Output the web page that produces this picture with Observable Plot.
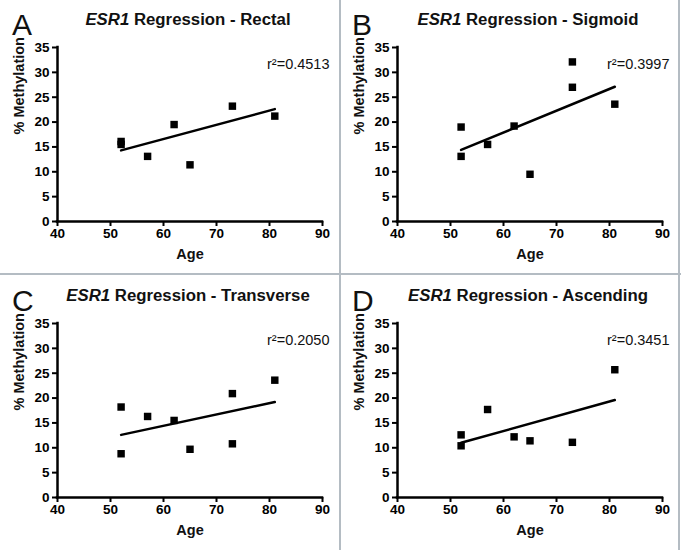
<!DOCTYPE html>
<html>
<head>
<meta charset="utf-8">
<script src="https://cdn.jsdelivr.net/npm/d3@7"></script>
<script src="https://cdn.jsdelivr.net/npm/@observablehq/plot@0.6"></script>
<style>
  html, body { margin: 0; padding: 0; background: #fff; }
  #fig { position: relative; width: 681px; height: 550px; overflow: hidden; background: #fff; }
  .panel { position: absolute; width: 340px; height: 273px; }
  .vline { position: absolute; background: #b4bcc3; }
</style>
</head>
<body>
<div id="fig"></div>
<script>
const FONT = '"Liberation Sans", Arial, Helvetica, sans-serif';

// ---- data ----
const panelLetters = ["A", "B", "C", "D"];
const sites = ["Rectal", "Sigmoid", "Transverse", "Ascending"];
const rSquared = ["0.4513", "0.3997", "0.2050", "0.3451"];

const rectalAge = [52, 52, 57, 62, 65, 73, 81];
const rectalMeth = [16.1, 15.5, 13.1, 19.5, 11.4, 23.2, 21.2];
const sigmoidAge = [52, 52, 57, 62, 65, 73, 73, 81];
const sigmoidMeth = [19.0, 13.1, 15.5, 19.2, 9.5, 32.1, 27.0, 23.6];
const transverseAge = [52, 52, 57, 62, 65, 73, 73, 81];
const transverseMeth = [18.2, 8.8, 16.3, 15.5, 9.7, 20.9, 10.8, 23.6];
const ascendingAge = [52, 52, 57, 62, 65, 73, 81];
const ascendingMeth = [12.6, 10.4, 17.7, 12.2, 11.4, 11.1, 25.7];

// regression line end points (age 52 and 81)
const fitAge = [52, 81];
const rectalFit = [14.3, 22.6];
const sigmoidFit = [14.4, 27.1];
const transverseFit = [12.6, 19.2];
const ascendingFit = [11.0, 19.6];

const xTicks = [40, 50, 60, 70, 80, 90];
const yTicks = [0, 5, 10, 15, 20, 25, 30, 35];
const xDomain = [40, 90];
const yDomain = [0, 35];

const panels = [
  {ages: rectalAge, meth: rectalMeth, fit: rectalFit},
  {ages: sigmoidAge, meth: sigmoidMeth, fit: sigmoidFit},
  {ages: transverseAge, meth: transverseMeth, fit: transverseFit},
  {ages: ascendingAge, meth: ascendingMeth, fit: ascendingFit}
];
const positions = [[0, 0], [340, 0], [0, 276], [340, 276]];

const fig = document.getElementById("fig");

panels.forEach((p, i) => {
  const pts = p.ages.map((a, j) => ({age: a, meth: p.meth[j]}));
  const line = fitAge.map((a, j) => ({age: a, meth: p.fit[j]}));
  const svg = Plot.plot({
    width: 340,
    height: 273,
    marginLeft: 57,
    marginRight: 18,
    marginTop: 47,
    marginBottom: 52,
    x: {domain: xDomain},
    y: {domain: yDomain},
    style: {fontFamily: FONT, background: "transparent", color: "#000", overflow: "visible"},
    marks: [
      Plot.axisX({ticks: xTicks, tickSize: 5, tickPadding: 2, strokeWidth: 2, fontWeight: "bold", fontSize: 13.5, label: null}),
      Plot.axisY({ticks: yTicks, tickSize: 5, tickPadding: 3, strokeWidth: 2, fontWeight: "bold", fontSize: 13.5, label: null}),
      Plot.ruleX([xDomain[0]], {y1: yDomain[0], y2: yDomain[1], strokeWidth: 2.5, strokeLinecap: "square"}),
      Plot.ruleY([yDomain[0]], {x1: xDomain[0], x2: xDomain[1], strokeWidth: 2.5, strokeLinecap: "square"}),
      Plot.line(line, {x: "age", y: "meth", stroke: "#000", strokeWidth: 2.5}),
      Plot.dot(pts, {x: "age", y: "meth", symbol: "square", r: 4.2, fill: "#000", stroke: null}),
      Plot.text(["r²=" + rSquared[i]], {text: d => d, frameAnchor: "top-right", dx: 7, dy: 17, lineAnchor: "middle", textAnchor: "end", fontSize: 14.5, fill: "#111"}),
      Plot.text(["Age"], {text: d => d, frameAnchor: "bottom", dy: 33, lineAnchor: "middle", fontSize: 14.5, fontWeight: "bold", fill: "#111"}),
      Plot.text(["% Methylation"], {text: d => d, frameAnchor: "left", dx: -38, rotate: -90, lineAnchor: "middle", fontSize: 14.5, fontWeight: "bold", fill: "#111"})
    ]
  });
  const s = d3.select(svg);
  s.append("text")
    .attr("x", 12).attr("y", 35)
    .attr("text-anchor", "start")
    .attr("font-size", 30)
    .attr("font-family", FONT)
    .attr("fill", "#111")
    .text(panelLetters[i]);
  const t = s.append("text")
    .attr("x", 188).attr("y", 25)
    .attr("text-anchor", "middle")
    .attr("font-size", 16.8)
    .attr("font-weight", "bold")
    .attr("font-family", FONT)
    .attr("fill", "#111");
  t.append("tspan").attr("font-style", "italic").text("ESR1");
  t.append("tspan").text(" Regression - " + sites[i]);

  const wrap = document.createElement("div");
  wrap.className = "panel";
  wrap.style.left = positions[i][0] + "px";
  wrap.style.top = positions[i][1] + "px";
  wrap.appendChild(svg);
  fig.appendChild(wrap);
});

// panel separators
[[339, 0, 1.5, 550], [0, 273, 681, 2], [678, 0, 1.5, 550]].forEach(([l, t, w, h]) => {
  const d = document.createElement("div");
  d.className = "vline";
  d.style.left = l + "px"; d.style.top = t + "px";
  d.style.width = w + "px"; d.style.height = h + "px";
  fig.appendChild(d);
});
</script>
</body>
</html>
